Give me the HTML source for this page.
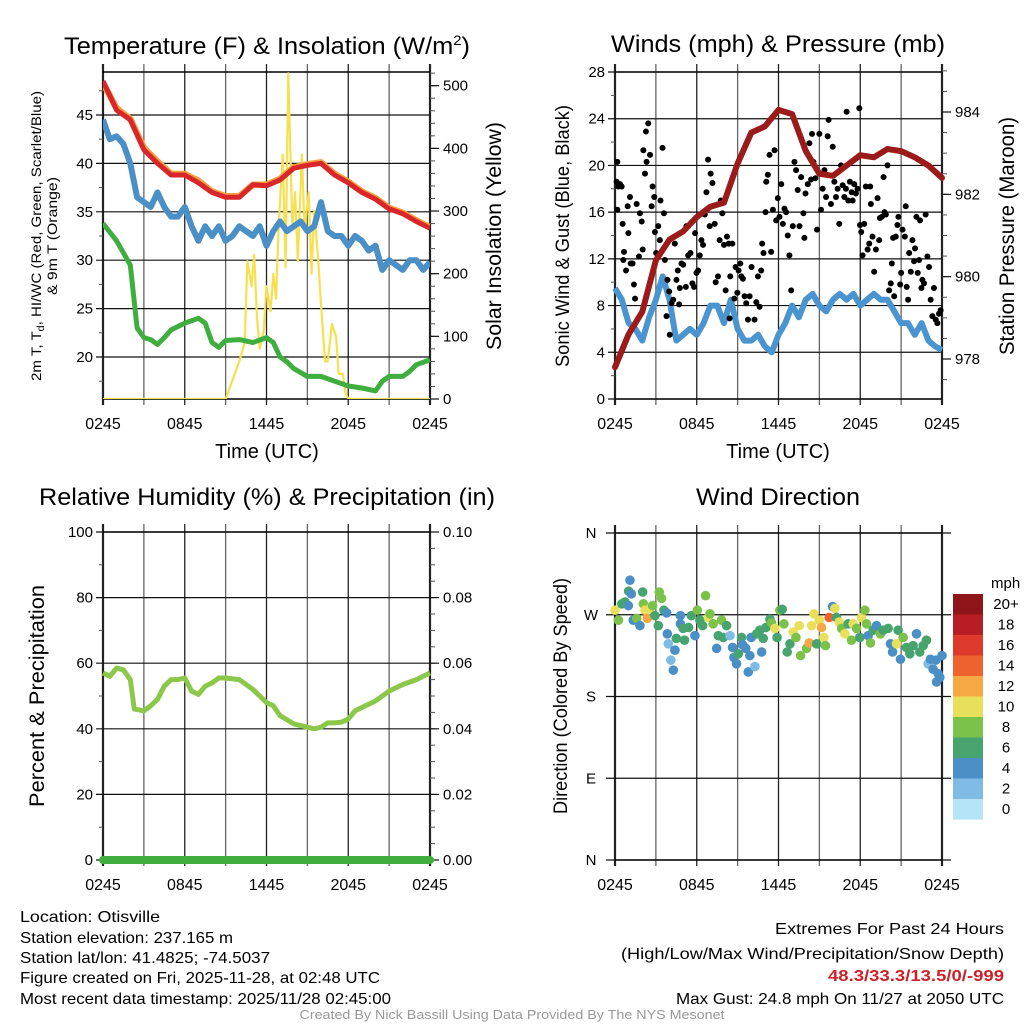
<!DOCTYPE html>
<html><head><meta charset="utf-8"><title>Otisville Meteogram</title>
<style>
html,body{margin:0;padding:0;background:#fff;}
svg{display:block;font-family:"Liberation Sans Narrow","Liberation Sans",sans-serif;}
</style></head>
<body>
<svg id="chart" xmlns="http://www.w3.org/2000/svg" width="1024" height="1024" viewBox="0 0 1024 1024">
<rect width="1024" height="1024" fill="#fff"/>
<text x="267" y="54" font-size="24" text-anchor="middle" textLength="406" lengthAdjust="spacingAndGlyphs">Temperature (F) &amp; Insolation (W/m<tspan dy="-9" font-size="14">2</tspan><tspan dy="9">)</tspan></text>
<text x="778" y="52" font-size="24" text-anchor="middle" textLength="334" lengthAdjust="spacingAndGlyphs">Winds (mph) &amp; Pressure (mb)</text>
<text x="267" y="505" font-size="24" text-anchor="middle" textLength="456" lengthAdjust="spacingAndGlyphs">Relative Humidity (%) &amp; Precipitation (in)</text>
<text x="778" y="505" font-size="24" text-anchor="middle" textLength="164" lengthAdjust="spacingAndGlyphs">Wind Direction</text>
<g id="footer" font-size="16">
<text x="20" y="922" textLength="140" lengthAdjust="spacingAndGlyphs">Location: Otisville</text>
<text x="20" y="943" textLength="213" lengthAdjust="spacingAndGlyphs">Station elevation: 237.165 m</text>
<text x="20" y="963" textLength="250" lengthAdjust="spacingAndGlyphs">Station lat/lon: 41.4825; -74.5037</text>
<text x="20" y="983" textLength="360" lengthAdjust="spacingAndGlyphs">Figure created on Fri, 2025-11-28, at 02:48 UTC</text>
<text x="20" y="1004" textLength="371" lengthAdjust="spacingAndGlyphs">Most recent data timestamp: 2025/11/28 02:45:00</text>
<text x="1004" y="934" text-anchor="end" textLength="229" lengthAdjust="spacingAndGlyphs">Extremes For Past 24 Hours</text>
<text x="1004" y="959" text-anchor="end" textLength="383" lengthAdjust="spacingAndGlyphs">(High/Low/Max Wind/Precipitation/Snow Depth)</text>
<text x="1004" y="981" text-anchor="end" font-weight="bold" fill="#cc2229" textLength="176" lengthAdjust="spacingAndGlyphs">48.3/33.3/13.5/0/-999</text>
<text x="1004" y="1004" text-anchor="end" textLength="328" lengthAdjust="spacingAndGlyphs">Max Gust: 24.8 mph On 11/27 at 2050 UTC</text>
<text x="512" y="1019" text-anchor="middle" font-size="13" fill="#999" textLength="425" lengthAdjust="spacingAndGlyphs">Created By Nick Bassill Using Data Provided By The NYS Mesonet</text>
</g>
</svg>
<script>
// ---------- data ----------
const xTickLabels = ["0245","0845","1445","2045","0245"];
const hourly = [0,1,2,3,4,5,6,7,8,9,10,11,12,13,14,15,16,17,18,19,20,21,22,23,24];
const tempF = [48.5,45.5,44.5,41.4,40,38.8,38.8,38,37,36.5,36.5,37.8,37.7,38.3,39.5,39.8,40,38.8,38,37,36.3,35.3,34.8,34,33.3];
const temp9m = [48.3,45.7,44.6,41.6,40.2,38.9,38.9,38.2,37.1,36.6,36.6,37.8,37.8,38.4,39.6,39.9,40.1,38.9,38.1,37.1,36.4,35.4,34.9,34.1,33.4];
const halfHours = [0,0.5,1,1.5,2,2.5,3,3.5,4,4.5,5,5.5,6,6.5,7,7.5,8,8.5,9,9.5,10,10.5,11,11.5,12,12.5,13,13.5,14,14.5,15,15.5,16,16.5,17,17.5,18,18.5,19,19.5,20,20.5,21,21.5,22,22.5,23,23.5,24];
const windChill = [44.5,42.5,42.8,42,40,36.5,36,35.5,37,35.5,34.5,34.5,35.5,33.5,32,33.5,32.5,33.5,32,32.5,33.5,33,32.5,33.5,31.5,33,34,33,33.5,34,33,33.5,36,33,32.5,32.5,31.5,32.5,32,31,31.5,29,30,29.5,29,30,30,29,29.8];
const dewHours = [0,1,2,2.5,3,3.5,4,4.5,5,6,7,7.5,8,8.5,9,10,11,12,12.5,13,13.5,14,15,16,17,18,19,20,20.5,21,22,22.5,23,24];
const dewF = [33.8,32,29.5,23,22,21.8,21.3,22,22.8,23.5,24,23.5,21.5,21,21.7,21.8,21.5,22,21.5,20,19.5,18.8,18,18,17.5,17,16.8,16.5,17.5,18,18,18.5,19.2,19.7];
const solarHours = [0,9,10,10.4,10.6,10.9,11.1,11.3,11.5,11.8,12,12.3,12.5,12.7,12.9,13.2,13.4,13.6,13.9,14.1,14.3,14.6,14.8,15.1,15.3,15.5,15.8,16,16.3,16.5,16.8,17.1,17.3,17.6,17.8,18,18.4,18.8,24];
const solarW = [0,0,60,90,220,180,230,130,80,110,180,140,200,160,280,390,210,520,270,330,220,390,270,330,200,300,220,150,60,60,120,100,40,40,10,0,0,0,0];
const windHalfHourly = [9.5,8.5,6.5,6,5,7,8.5,10.5,8.5,5,5.5,6,5.5,6.5,8,8,6.5,8.5,6,5,5,5.5,4.5,4,5.5,6.5,8,7,8.5,9,8,7.5,8.5,9,8.5,9,8,8.5,9,8.5,8.5,7.5,6.5,6.5,5.5,6.5,5,4.5,4.2];
const pressureMb = [977.8,978.6,979.15,980.4,980.9,981.1,981.45,981.7,981.8,982.75,983.5,983.65,984.05,983.95,983.05,982.5,982.45,982.7,982.95,982.9,983.1,983.05,982.9,982.7,982.4];
const gustHours = [0.12,0.17,0.17,0.24,0.37,0.49,0.56,0.66,0.61,0.81,0.98,0.93,1.1,1.15,1.29,1.39,1.47,1.59,1.76,1.83,1.96,2.03,2.08,2.2,2.27,2.32,2.44,2.57,2.69,2.76,2.88,2.93,3.02,3.17,3.29,3.34,3.49,3.59,3.66,3.78,3.85,3.98,4.02,4.15,4.27,4.39,4.51,4.61,4.71,4.76,4.88,5.0,5.2,5.24,5.37,5.54,5.68,5.8,5.88,5.98,6.1,6.22,6.34,6.46,6.59,6.71,6.83,6.95,7.02,7.15,7.32,7.39,7.56,7.68,7.76,7.88,8.0,8.12,8.22,8.34,8.41,8.46,8.61,8.76,8.85,8.98,9.07,9.2,9.27,9.39,9.51,9.63,9.76,9.88,10.02,10.24,10.37,10.49,10.61,10.73,10.8,10.9,11.05,11.1,11.22,11.34,11.46,11.59,11.71,11.83,11.95,12.07,12.2,12.32,12.44,12.56,12.68,12.8,12.93,13.05,13.17,13.29,13.41,13.54,13.66,13.83,13.9,13.98,14.15,14.27,14.39,14.46,14.56,14.71,14.83,15.0,15.12,15.24,15.37,15.49,15.61,15.68,15.85,15.98,16.1,16.22,16.34,16.46,16.59,16.71,16.83,16.95,17.0,17.12,17.24,17.37,17.44,17.56,17.68,17.8,17.93,17.98,18.07,18.17,18.29,18.41,18.54,18.66,18.73,18.78,18.9,19.02,19.15,19.27,19.39,19.44,19.59,19.71,19.78,19.88,20.0,20.12,20.24,20.32,20.41,20.49,20.61,20.73,20.8,20.93,21.0,21.1,21.27,21.34,21.41,21.51,21.59,21.71,21.83,21.95,22.02,22.12,22.22,22.32,22.39,22.49,22.56,22.68,22.8,22.93,23.05,23.17,23.29,23.41,23.54,23.66,23.78,23.9];
const gustMph = [18.6,16.2,20.3,18.2,18.4,18.2,15,12.6,11.9,11,14.2,16.5,17.3,11.6,11.6,9.8,8.6,16.7,12.2,15.9,15.2,12.8,21.3,19.3,22.9,20.3,23.6,20.9,16.5,18.2,17.3,14.3,12.5,14.8,13.6,17,21.5,15.9,11.9,7.1,10.2,9.2,5.5,8.2,8.5,13.3,10.2,11,8.1,9.5,11.6,11.5,9.6,14.8,12.3,12.5,9.9,9.6,14.2,10.8,11,12.3,13.6,13.2,15.8,17.7,20.5,14.8,19.3,18.5,15,10,10.5,13.6,17,15.9,13.2,9.3,13.9,13.3,6.9,10.5,13.3,8.6,11.3,9.1,11,11.6,10.5,10.3,8.8,8.2,6.8,8.8,11.3,6.8,8.3,10.5,7.9,11,13.3,12.5,16,18.6,19.2,20.9,12.6,16.2,21.3,15.3,17.2,15.6,18.4,15,16.3,16,14,12.3,9.3,14.8,20.3,19.6,17.9,14.8,19,15.9,13.8,17.6,18.4,21.9,18.8,22.7,20.3,18.9,14.5,22.7,16.2,18,19.6,17.3,22.5,23.9,16.7,21.6,18.6,17.3,18,15,20,18.3,17.3,18,24.6,17,18.6,17.7,17,18.4,17.6,18,24.9,14.9,14.3,12.3,15,18.2,12.8,13.3,18.2,16.7,13.9,10.9,12.8,17.2,13.6,15.5,15.6,19,16,15.8,20,9.3,9.9,11.6,13.8,8.8,13.9,14.9,15.6,9.8,10.8,14.5,13.9,16.5,9.6,8.5,12.5,10.9,13.6,11.8,12.9,15.6,10.8,11.9,15.3,9.5,10.2,9.9,15.8,12.2,11.3,8.5,7.1,9.5,6.8,6.5,7.3,7.6];
const rhHours = [0,0.5,1,1.5,2,2.3,3,3.5,4,4.5,5,5.5,6,6.5,7,7.5,8,8.5,9,10,11,12,12.5,13,14,15,15.5,16,16.5,17,17.5,18,18.5,19,19.5,20,21,22,23,24];
const rhPct = [57,56,58.5,58,55,46,45.5,47,49,53,55,55,55.5,51.5,50.5,53,54,55.5,55.5,55,52,48,47,44,41.5,40.5,40,40.5,41.8,41.8,42,43,45.5,46.5,47.5,48.5,51.5,53.5,55,57];
const precipHours = [0,24];
const precipIn = [0,0];
const dirHours = [0,0.25,0.5,0.73,0.98,1.1,1.0,1.2,1.34,1.59,1.83,2.03,2.08,2.2,2.37,2.57,2.76,2.93,3.25,3.42,3.18,3.59,3.79,3.84,3.91,4.1,4.28,4.4,4.5,4.8,4.8,5.0,5.1,5.4,5.6,5.87,6.04,6.23,6.43,6.65,6.85,6.97,7.2,7.46,7.58,7.82,7.95,8.19,8.44,8.63,8.73,8.92,9.05,9.29,9.36,9.6,9.78,9.9,10.0,10.27,10.4,10.63,10.76,10.88,11.08,11.37,11.49,11.74,11.9,12.1,12.27,12.4,12.64,12.84,13.08,13.28,13.52,13.62,14.06,14.25,14.43,14.6,14.8,14.99,15.16,15.33,15.45,15.72,15.97,16.14,16.26,16.45,16.63,16.87,17.11,17.36,17.48,17.73,17.97,18.09,18.34,18.46,18.58,18.75,18.95,19.19,19.49,19.68,20.05,20.22,20.37,20.66,20.78,20.95,21.15,21.39,21.64,21.88,22.13,22.37,22.62,22.86,22.98,23.15,23.35,23.55,23.72,23.6,23.84,24];
const dirDeg = [275,264,282,284,280,308,296,293,264,266,258,295,282,275,266,277,280,269,295,288,258,275,272,249,238,220,209,231,244,269,260,255,242,256,269,247,275,264,258,291,267,271,260,233,247,264,245,258,247,234,223,216,227,245,237,233,207,225,245,213,249,253,229,244,256,265,261,255,245,275,276,260,229,238,251,245,258,225,233,239,258,271,238,264,256,245,236,267,279,277,267,262,255,249,260,242,260,255,245,267,275,260,247,239,253,258,249,253,255,238,229,238,253,221,245,234,227,236,249,229,236,242,216,221,210,220,205,196,201,225];
const dirSpeed = [11,9,7,7,5,5,7,5,5,9,5,7,9,11,13,11,9,7,9,9,7,7,5,5,3,3,5,5,7,5,5,7,7,7,7,5,9,7,7,9,11,9,9,5,7,9,7,7,3,5,5,5,7,7,5,5,5,5,5,3,7,7,5,7,7,7,9,11,7,9,7,9,7,7,11,9,11,9,9,13,11,11,7,11,13,11,9,15,5,11,7,11,9,11,7,9,11,9,7,11,9,9,5,9,7,5,9,7,7,5,5,11,7,5,9,7,7,7,5,7,7,7,3,5,5,5,5,5,5,5];
const speedLabels = ["20+","18","16","14","12","10","8","6","4","2","0"];
const speedColors = ["#8e1519","#b91c25","#dd3a2c","#ee632d","#f6a844","#e8e05a","#7ac24a","#47a46e","#4a8fc6","#7fbbe4","#b5e3f8"];
const dirLabels = ["N","W","S","E","N"];

// ---------- helpers ----------
const NS = "http://www.w3.org/2000/svg";
const svg = document.getElementById("chart");
function mk(tag, attrs, parent){ const e=document.createElementNS(NS,tag); for(const k in attrs) e.setAttribute(k,attrs[k]); (parent||svg).appendChild(e); return e; }
function lin(d0,d1,r0,r1){ return v => r0 + (v-d0)/(d1-d0)*(r1-r0); }
function txt(x,y,s,size,anchor,parent){ const t=mk("text",{x:x,y:y,"font-size":size,"text-anchor":anchor||"middle"},parent); t.textContent=s; return t; }
function pathFrom(xs,ys,fx,fy){ return xs.map((h,i)=>(i?"L":"M")+fx(h).toFixed(1)+","+fy(ys[i]).toFixed(1)).join(""); }

function frame(g,L,T,R,B,fx){
  for(let h=0;h<=24;h+=3){
    const x=fx(h);
    const ln=mk("line",{x1:x,y1:T-8,x2:x,y2:B+6,stroke:(h%6==3?"#666":"#222"),"stroke-width":(h==0||h==24)?2.2:1.3},g);
    
    
  }
  mk("line",{x1:L,y1:T,x2:R,y2:T,stroke:"#000","stroke-width":1.5},g);
  mk("line",{x1:L,y1:B,x2:R,y2:B,stroke:"#000","stroke-width":1.5},g);
  xTickLabels.forEach((s,i)=>{ const t=txt(fx(i*6),B+30,s,16,"middle",g);
    
     });
}
function leftAxis(g,L,R,fy,majors,minors,labels,grid){
  minors.forEach(v=>mk("line",{x1:L-4,y1:fy(v),x2:L,y2:fy(v),stroke:"#555","stroke-width":1},g));
  majors.forEach((v,i)=>{
    mk("line",{x1:L-7,y1:fy(v),x2:grid?R:L,y2:fy(v),stroke:"#111","stroke-width":1.2},g);
    const t=txt(L-10,fy(v)+5,labels[i],15,"end",g);
    
    
  });
}
function rightAxis(g,R,fy,majors,minors,labels){
  minors.forEach(v=>mk("line",{x1:R,y1:fy(v),x2:R+5,y2:fy(v),stroke:"#555","stroke-width":1},g));
  majors.forEach((v,i)=>{
    mk("line",{x1:R,y1:fy(v),x2:R+9,y2:fy(v),stroke:"#111","stroke-width":1.2},g);
    const t=txt(R+13,fy(v)+5,labels[i],15,"start",g);
    
    
  });
}
function vlabel(x,y,s,size,parent,len){
  const t=mk("text",{x:0,y:0,"font-size":size,"text-anchor":"middle",transform:`translate(${x},${y}) rotate(-90)`},parent);
  if(len){t.setAttribute("textLength",len);t.setAttribute("lengthAdjust","spacingAndGlyphs");}
  t.textContent=s; return t;
}
function range(a,b,s){const r=[];for(let v=a;v<=b+1e-9;v+=s)r.push(+v.toFixed(4));return r;}

// ---------- Panel 1: temperature ----------
{
  const L=103,R=430,T=72,B=399;
  const g=mk("g",{});  
  const fx=lin(0,24,L,R), fy=lin(20,45,357,115), fs=lin(0,500,399,85.7);
  frame(g,L,T,R,B,fx);
  leftAxis(g,L,R,fy,[20,25,30,35,40,45],range(17.5,47.5,5),["20","25","30","35","40","45"],true);
  rightAxis(g,R,fs,[0,100,200,300,400,500],range(20,520,20),["0","100","200","300","400","500"]);
  const clip=mk("clipPath",{id:"c1"},g); mk("rect",{x:L,y:T,width:R-L,height:B-T},clip);
  const d=mk("g",{"clip-path":"url(#c1)"},g);
  let p=mk("path",{d:pathFrom(solarHours,solarW,fx,fs),fill:"none",stroke:"#f7e04e","stroke-width":2.2,"stroke-linejoin":"round"},d);
   
  p=mk("path",{d:pathFrom(dewHours,dewF,fx,fy),fill:"none",stroke:"#3fae3f","stroke-width":5,"stroke-linejoin":"round"},d);
   
  p=mk("path",{d:pathFrom(halfHours,windChill,fx,fy),fill:"none",stroke:"#4a8fc6","stroke-width":6,"stroke-linejoin":"round"},d);
   
  p=mk("path",{d:pathFrom(hourly,temp9m,fx,fy),fill:"none",stroke:"#f5a040","stroke-width":6.5,"stroke-linejoin":"round"},d);
   
  p=mk("path",{d:pathFrom(hourly,tempF,fx,fy),fill:"none",stroke:"#d8262a","stroke-width":5,"stroke-linejoin":"round"},d);
   
  let t=txt(267,458,"Time (UTC)",20,"middle",g);  
  t=vlabel(41,236,"2m T, T",14,g); t.innerHTML='2m T, T<tspan font-size="10" dy="3">d</tspan><tspan dy="-3">, HI/WC (Red, Green, Scarlet/Blue)</tspan>';
  t.setAttribute("textLength","290"); t.setAttribute("lengthAdjust","spacingAndGlyphs");
   
  t=vlabel(57,236,"& 9m T (Orange)",14,g,118);  
  t=vlabel(501,236,"Solar Insolation (Yellow)",21,g,228);  
}

// ---------- Panel 2: winds & pressure ----------
{
  const L=615,R=942,T=72,B=399;
  const g=mk("g",{});  
  const fx=lin(0,24,L,R), fy=lin(0,28,399,72), fp=lin(978,984,359,112);
  frame(g,L,T,R,B,fx);
  leftAxis(g,L,R,fy,[0,4,8,12,16,20,24,28],range(2,26,4),["0","4","8","12","16","20","24","28"],true);
  rightAxis(g,R,fp,[978,980,982,984],range(977.5,985,0.5),["978","980","982","984"]);
  const clip=mk("clipPath",{id:"c2"},g); mk("rect",{x:L-4,y:T-4,width:R-L+8,height:B-T+8},clip);
  const d=mk("g",{"clip-path":"url(#c2)"},g);
  let p=mk("path",{d:pathFrom(halfHours,windHalfHourly,fx,fy),fill:"none",stroke:"#4a94d0","stroke-width":6,"stroke-linejoin":"round"},d);
   
  gustHours.forEach((h,i)=>{
    const c=mk("circle",{cx:fx(h),cy:fy(gustMph[i]),r:3,fill:"#000"},d);
    
    
  });
  p=mk("path",{d:pathFrom(hourly,pressureMb,fx,fp),fill:"none",stroke:"#9b1b1b","stroke-width":6,"stroke-linejoin":"round","stroke-linecap":"round"},d);
   
  let t=txt(778,458,"Time (UTC)",20,"middle",g);  
  t=vlabel(569,236,"Sonic Wind & Gust (Blue, Black)",19,g,262);  
  t=vlabel(1014,236,"Station Pressure (Maroon)",21,g,238);  
}

// ---------- Panel 3: RH & precip ----------
{
  const L=103,R=430,T=532,B=860;
  const g=mk("g",{});  
  const fx=lin(0,24,L,R), fy=lin(0,100,860,532), fpr=lin(0,0.1,860,532);
  frame(g,L,T,R,B,fx);
  leftAxis(g,L,R,fy,[0,20,40,60,80,100],range(10,90,20),["0","20","40","60","80","100"],true);
  rightAxis(g,R,fpr,[0,0.02,0.04,0.06,0.08,0.10],range(0.005,0.095,0.005),["0.00","0.02","0.04","0.06","0.08","0.10"]);
  let p=mk("path",{d:pathFrom(rhHours,rhPct,fx,fy),fill:"none",stroke:"#8bc84a","stroke-width":5,"stroke-linejoin":"round"},g);
   
  p=mk("path",{d:pathFrom(precipHours,precipIn,fx,fpr),fill:"none",stroke:"#3fae3f","stroke-width":8,"stroke-linecap":"round"},g);
   
  let t=vlabel(44,696,"Percent & Precipitation",21,g,222);  
}

// ---------- Panel 4: wind direction ----------
{
  const L=615,R=942,T=533,B=860;
  const g=mk("g",{});  
  const fx=lin(0,24,L,R), fy=lin(0,360,860,533);
  frame(g,L,T,R,B,fx);
  [360,270,180,90,0].forEach((v,i)=>{
    mk("line",{x1:L-9,y1:fy(v),x2:R+9,y2:fy(v),stroke:"#111","stroke-width":1.2},g);
    const t=txt(L-24,fy(v)+5,dirLabels[i],15,"middle",g);
    
    
  });
  dirHours.forEach((h,i)=>{
    const s=dirSpeed[i]; let idx=10-Math.floor(s/2); if(idx<0) idx=0; if(idx>10) idx=10;
    const c=mk("circle",{cx:fx(h),cy:fy(dirDeg[i]),r:4.8,fill:speedColors[idx]},g);
    
    
  });
  let t=vlabel(567,696,"Direction (Colored By Speed)",19,g,236);  
  const lg=mk("g",{},g);  
  t=txt(991,588,"mph",15,"start",lg);  
  speedColors.forEach((c,i)=>{
    const r=mk("rect",{x:953,y:594+i*20.5,width:30,height:20.6,fill:c},lg);
    
    
    const tt=txt(1006,594+i*20.5+15,speedLabels[i],15,"middle",lg);
    
    
  });
}
</script>
</body></html>
